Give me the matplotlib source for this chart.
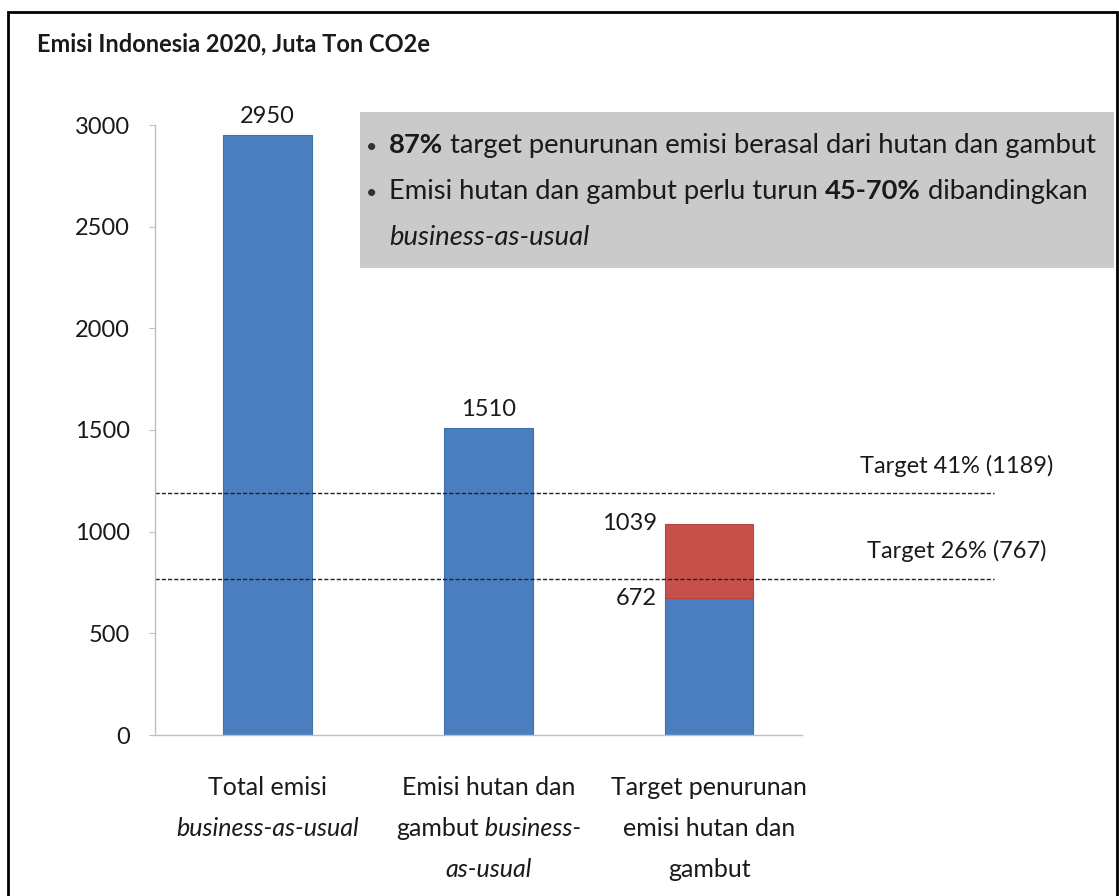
import matplotlib
matplotlib.use("Agg")
import matplotlib.pyplot as plt
import matplotlib.transforms as mtransforms
from matplotlib.patches import Rectangle

# Data
CATEGORIES = ["Total emisi BAU", "Emisi hutan dan gambut BAU", "Target penurunan"]
BLUE_VALUES = [2950, 1510, 672]
RED_VALUES = [0, 0, 1039 - 672]
BAR_LABELS = ["2950", "1510"]
STACK_LABELS = ["1039", "672"]
TARGET_VALUES = [1189, 767]
TARGET_LABELS = ["Target 41% (1189)", "Target 26% (767)"]
Y_TICKS = [0, 500, 1000, 1500, 2000, 2500, 3000]

# category labels, each line is a list of (text, style)
CAT_LINES = [
    [[("Total emisi", "normal")], [("business-as-usual", "italic")]],
    [[("Emisi hutan dan", "normal")],
     [("gambut", "normal"), (" business-", "italic")],
     [("as-usual", "italic")]],
    [[("Target penurunan", "normal")], [("emisi hutan dan", "normal")],
     [("gambut", "normal")]],
]

# text in the grey box: (text, weight, style)
BOX_LINES = [
    [("87%", "bold", "normal"),
     (" target penurunan emisi berasal dari hutan dan gambut", "normal", "normal")],
    [("Emisi hutan dan gambut perlu turun ", "normal", "normal"),
     ("45-70%", "bold", "normal"), (" dibandingkan", "normal", "normal")],
    [("business-as-usual", "normal", "italic")],
]
BOX_BULLETS = [True, True, False]

FONT = ["Lato", "DejaVu Sans"]
BLUE = "#4A7EBE"
RED = "#C8504B"
TXT = "#1a1a1a"

W, H = 1119, 896
fig = plt.figure(figsize=(W / 100, H / 100), dpi=100)
plt.rcParams["font.family"] = FONT


def px(x, y):
    return x / W, 1 - y / H


def rich_line(x, y, segments, size, ha="left"):
    """draw mixed-style text on one baseline, at pixel position x, y"""
    renderer = fig.canvas.get_renderer()
    texts = []
    for seg in segments:
        s, weight, style = seg if len(seg) == 3 else (seg[0], "normal", seg[1])
        t = fig.text(0, 0, s, fontsize=size, fontweight=weight, fontstyle=style,
                     family=FONT, color=TXT, va="baseline", ha="left")
        texts.append(t)
    widths = [t.get_window_extent(renderer).width for t in texts]
    off = 0 if ha == "left" else -sum(widths) / 2
    for t, w in zip(texts, widths):
        t.set_transform(mtransforms.offset_copy(fig.transFigure, fig=fig, x=off, y=0, units="dots"))
        t.set_position(px(x, y))
        off += w


# outer frame
fig.patches.append(Rectangle(px(8, 905), (1117 - 8) / W, (905 - 12) / H, transform=fig.transFigure,
                             fill=False, edgecolor="black", linewidth=2))

fig.text(*px(37, 44), "Emisi Indonesia 2020, Juta Ton CO2e", fontsize=17, fontweight="bold",
         color=TXT, va="center", ha="left")

ax = fig.add_axes([155 / W, 1 - 735 / H, 647 / W, 610 / H])
x = list(range(len(CATEGORIES)))
ax.bar(x, BLUE_VALUES, width=0.40, color=BLUE, edgecolor="#3f6fae", linewidth=0.8)
ax.bar(x[2], RED_VALUES[2], width=0.40, bottom=BLUE_VALUES[2], color=RED, edgecolor="#b44541",
       linewidth=0.8)

ax.set_xlim(-0.51, 2.42)
ax.set_ylim(0, 3000)
ax.set_yticks(Y_TICKS)
ax.set_xticks([])
ax.tick_params(axis="y", length=4, color="#bfbfbf", labelsize=17, labelcolor=TXT, pad=14)
for side in ["top", "right"]:
    ax.spines[side].set_visible(False)
for side in ["left", "bottom"]:
    ax.spines[side].set_color("#bfbfbf")
    ax.spines[side].set_linewidth(1)

# value labels
for i, lab in enumerate(BAR_LABELS):
    ax.annotate(lab, (x[i], BLUE_VALUES[i]), xytext=(0, 6), textcoords="offset points",
                ha="center", va="bottom", fontsize=17, color=TXT)
stack_vals = [BLUE_VALUES[2] + RED_VALUES[2], BLUE_VALUES[2]]
for lab, v in zip(STACK_LABELS, stack_vals):
    ax.annotate(lab, (x[2] - 0.20, v), xytext=(-6, 0), textcoords="offset points",
                ha="right", va="center", fontsize=17, color=TXT)

# target lines extend past the axes
trans = mtransforms.blended_transform_factory(ax.transAxes, ax.transData)
for v, lab in zip(TARGET_VALUES, TARGET_LABELS):
    ax.plot([0, (994 - 155) / 647], [v, v], transform=trans, color="#222222",
            linestyle=(0, (3, 1.5)), linewidth=1, clip_on=False)
    ax.annotate(lab, ((957 - 155) / 647, v), xycoords=trans, xytext=(0, 20),
                textcoords="offset points", ha="center", va="center", fontsize=17, color=TXT,
                annotation_clip=False)

# grey text box
fig.patches.append(Rectangle(px(360, 268), (1114 - 360) / W, (268 - 112) / H,
                             transform=fig.transFigure, facecolor="#cacaca", edgecolor="none"))
for j, (segs, bullet) in enumerate(zip(BOX_LINES, BOX_BULLETS)):
    base = 153 + j * 46
    if bullet:
        fig.text(*px(366, base), "\u2022", fontsize=14, color="#333333", va="baseline", ha="left")
    rich_line(389, base, segs, 19.7)

# category labels below the bars
centers = [ax.transData.transform((xi, 0))[0] for xi in x]
for cx, lines in zip(centers, CAT_LINES):
    for j, segs in enumerate(lines):
        rich_line(cx, 795 + j * 41, segs, 18, ha="center")

fig.savefig("out.png", dpi=100)
